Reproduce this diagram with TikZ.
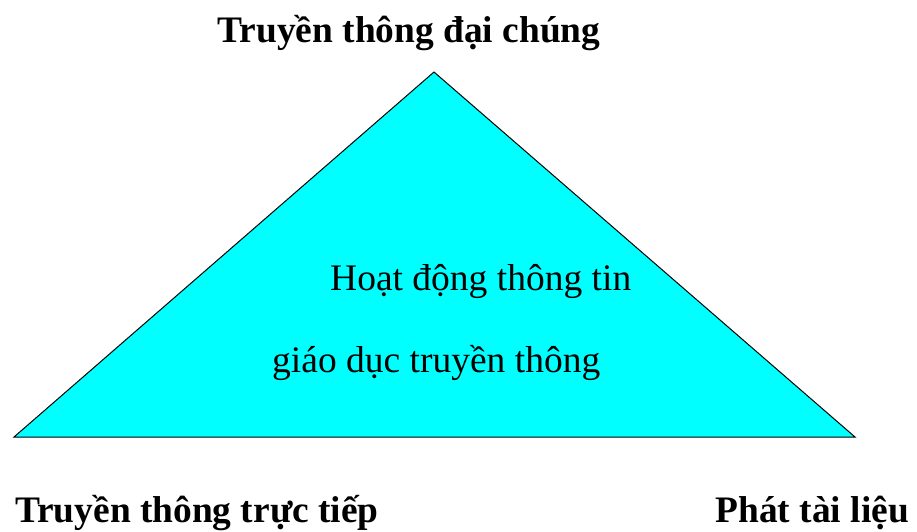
\documentclass[tikz,border=0pt]{standalone}
\usepackage{fontspec}
\setmainfont{Liberation Serif}
\definecolor{trifill}{RGB}{0,255,255}
\begin{document}
\begin{tikzpicture}[x=1pt,y=-1pt,
  bold label/.style={font=\bfseries\fontsize{37.4}{42}\selectfont, inner sep=0pt},
  inner label/.style={font=\fontsize{37.5}{42}\selectfont, inner sep=0pt}]
\useasboundingbox (0,0) rectangle (917,531);
\coordinate (apex) at (434,72);
\coordinate (bl) at (14,437);
\coordinate (br) at (855,437);
\filldraw[fill=trifill, draw=black, line width=1pt] (apex) -- (br) -- (bl) -- cycle;
\node[bold label, anchor=base] (top) at (409,42) {Truyền thông đại chúng};
\node[inner label, anchor=base west] (in1) at (330,290) {Hoạt động thông tin};
\node[inner label, anchor=base west] (in2) at (272,372) {giáo dục truyền thông};
\node[bold label, anchor=base west] (left) at (15,522) {Truyền thông trực tiếp};
\node[bold label, anchor=base east] (right) at (909,522) {Phát tài liệu};
\end{tikzpicture}
\end{document}
